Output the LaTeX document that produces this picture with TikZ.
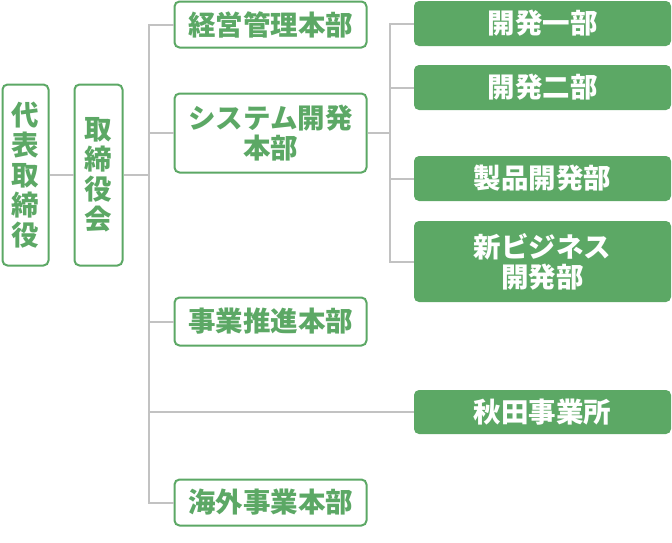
\documentclass[tikz,border=0pt]{standalone}
\usepackage{fontspec}
\newfontfamily\jp{Noto Sans CJK JP}
\definecolor{grn}{HTML}{5CA865}
\definecolor{lgray}{HTML}{C2C2C2}
\tikzset{
  wbox/.style={draw=grn, line width=2pt, fill=white, rounded corners=5pt, text=grn, inner sep=0pt, align=center, font=\jp\bfseries\fontsize{27.5}{30}\selectfont},
  gbox/.style={fill=grn, rounded corners=5pt, text=white, inner sep=0pt, align=center, font=\jp\bfseries\fontsize{27.5}{30}\selectfont},
  conn/.style={draw=lgray, line width=2pt},
}
\begin{document}
\begin{tikzpicture}[x=1pt,y=-1pt]
\useasboundingbox (0,0) rectangle (672,542);
\node[wbox, minimum width=46pt, minimum height=181pt] (daihyo) at (25.5,175) {代\\表\\取\\締\\役};
\node[wbox, minimum width=48pt, minimum height=181pt] (tori) at (98.5,175) {取\\締\\役\\会};
\node[wbox, minimum width=192pt, minimum height=46pt] (keiei) at (270.5,24.5) {経営管理本部};
\node[wbox, minimum width=192pt, minimum height=79pt] (sys) at (270.5,133) {システム開発\\本部};
\node[wbox, minimum width=192pt, minimum height=48pt] (jigyo) at (270.5,321.5) {事業推進本部};
\node[wbox, minimum width=192pt, minimum height=46pt] (kaigai) at (270.5,502.5) {海外事業本部};
\node[gbox, minimum width=257pt, minimum height=45pt] (kai1) at (542.5,23.5) {開発一部};
\node[gbox, minimum width=257pt, minimum height=45pt] (kai2) at (542.5,87.5) {開発二部};
\node[gbox, minimum width=257pt, minimum height=45pt] (seihin) at (542.5,178.5) {製品開発部};
\node[gbox, minimum width=257pt, minimum height=81pt] (shin) at (542.5,261.5) {新ビジネス\\開発部};
\node[gbox, minimum width=257pt, minimum height=44pt] (akita) at (542.5,412) {秋田事業所};
\coordinate (tr) at (149,0);
\coordinate (br) at (390,0);
\draw[conn] (daihyo.east) -- (tori.west);
\draw[conn] (tori.east) -- (tr |- tori.east);
\draw[conn] (keiei.west) -- (tr |- keiei.west) -- (tr |- kaigai.west) -- (kaigai.west);
\draw[conn] (sys.west) -- (tr |- sys.west);
\draw[conn] (jigyo.west) -- (tr |- jigyo.west);
\draw[conn] (tr |- akita.west) -- (akita.west);
\draw[conn] (sys.east) -- (br |- sys.east);
\draw[conn] (kai1.west) -- (br |- kai1.west) -- (br |- shin.west) -- (shin.west);
\draw[conn] (kai2.west) -- (br |- kai2.west);
\draw[conn] (seihin.west) -- (br |- seihin.west);
\end{tikzpicture}
\end{document}
